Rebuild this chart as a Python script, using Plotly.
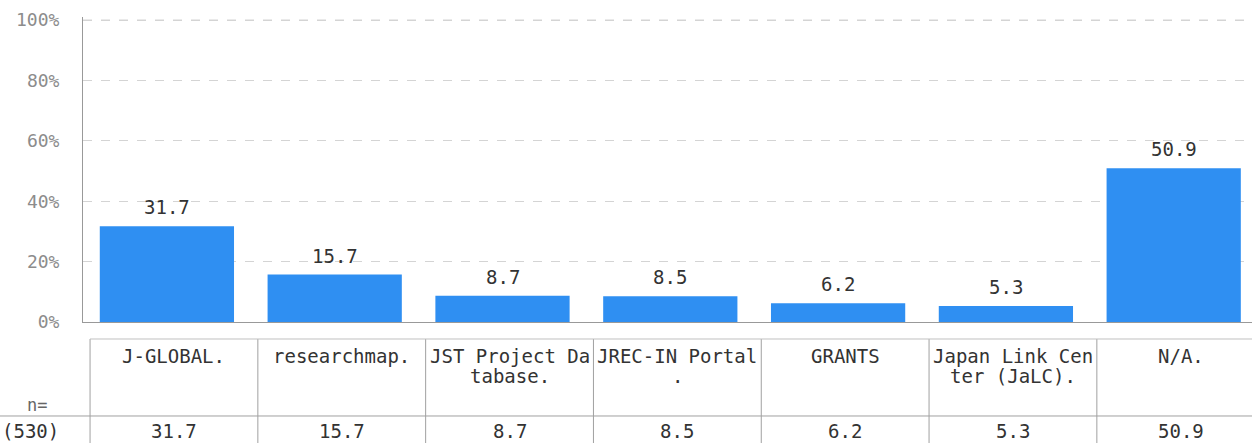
import plotly.graph_objects as go

categories = ["J-GLOBAL.", "researchmap.", "JST Project Database.", "JREC-IN Portal.",
              "GRANTS", "Japan Link Center (JaLC).", "N/A."]
values = [31.7, 15.7, 8.7, 8.5, 6.2, 5.3, 50.9]
n_label = "n="
n_value = "(530)"
y_ticks = [0, 20, 40, 60, 80, 100]
y_tick_text = ["0%", "20%", "40%", "60%", "80%", "100%"]

FONT = "DejaVu Sans Mono"
W, H = 1252, 443
YMAX = 101.0
B = 121
ph = 302 * YMAX / 100.0  # plot height in px
T = H - B - ph
L = 83


def py(p):
    # pixel y -> paper y
    return (H - B - p) / ph


def wrap(s, n=14):
    return [s[i:i + n] for i in range(0, len(s), n)]


x_idx = list(range(len(categories)))

fig = go.Figure()
fig.add_trace(go.Bar(
    x=x_idx, y=values, width=0.8,
    marker=dict(color="#2f8ff2", line=dict(width=0)),
    hoverinfo="y",
))

shapes = []
annotations = []
off = 0.042  # table column offset relative to category boundaries
n = len(categories)
line_col = "#a0a0a0"
# top gridline (100%)
shapes.append(dict(type="line", xref="paper", yref="y", x0=0, x1=1,
                   y0=y_ticks[-1], y1=y_ticks[-1], layer="below",
                   line=dict(color="#d4d4d4", width=1, dash="dash")))
# vertical table lines
for k in range(n):
    xb = k - 0.5 + off
    shapes.append(dict(type="line", xref="x", yref="paper", x0=xb, x1=xb,
                       y0=py(339), y1=py(445), line=dict(color=line_col, width=1)))
# horizontal lines
shapes.append(dict(type="line", xref="x", yref="paper", x0=-0.5 + off, x1=n,
                   y0=py(339), y1=py(339), line=dict(color="#c0c0c0", width=1)))
shapes.append(dict(type="line", xref="paper", yref="paper", x0=-L / (W - L), x1=1,
                   y0=py(416), y1=py(416), line=dict(color=line_col, width=1)))

for i, (c, v) in enumerate(zip(categories, values)):
    # value label above bar
    annotations.append(dict(x=i, y=v, xref="x", yref="y", text=f"{v:.1f}",
                            showarrow=False, xanchor="center", yanchor="bottom", yshift=6,
                            font=dict(family=FONT, size=19, color="#333333")))
    for j, ln in enumerate(wrap(c)):
        annotations.append(dict(x=i + off, y=py(356 + 20 * j), xref="x", yref="paper",
                                text=ln, showarrow=False, xanchor="center", yanchor="middle",
                                font=dict(family=FONT, size=19, color="#333333")))
    annotations.append(dict(x=i + off, y=py(431), xref="x", yref="paper",
                            text=f"{v:.1f}", showarrow=False, xanchor="center", yanchor="middle",
                            font=dict(family=FONT, size=19, color="#333333")))

annotations.append(dict(x=(37 - L) / (W - L), y=py(405), xref="paper", yref="paper",
                        text=n_label, showarrow=False, xanchor="center", yanchor="middle",
                        font=dict(family=FONT, size=17, color="#666666")))
annotations.append(dict(x=(30 - L) / (W - L), y=py(431), xref="paper", yref="paper",
                        text=n_value, showarrow=False, xanchor="center", yanchor="middle",
                        font=dict(family=FONT, size=19, color="#333333")))

span = (W - L) / 167.8
fig.update_layout(
    width=W, height=H,
    margin=dict(l=L, r=0, t=T, b=B, autoexpand=False),
    paper_bgcolor="white", plot_bgcolor="white",
    showlegend=False,
    xaxis=dict(range=[-0.5, -0.5 + span], showticklabels=False, showgrid=False,
               zeroline=False, showline=True, linecolor="#999999", linewidth=1, ticks=""),
    yaxis=dict(range=[0, YMAX], tickvals=y_ticks, ticktext=y_tick_text,
               tickfont=dict(family=FONT, size=18, color="#8c8c8c"),
               showgrid=True, gridcolor="#d4d4d4", griddash="dash", gridwidth=1,
               zeroline=False, showline=True, linecolor="#999999", linewidth=1,
               ticks="", ticklabelstandoff=19),
    shapes=shapes,
    annotations=annotations,
)

fig.write_html("out.html", config={"displayModeBar": False},
               post_script="document.body.style.margin='0';document.body.style.overflow='hidden';")
